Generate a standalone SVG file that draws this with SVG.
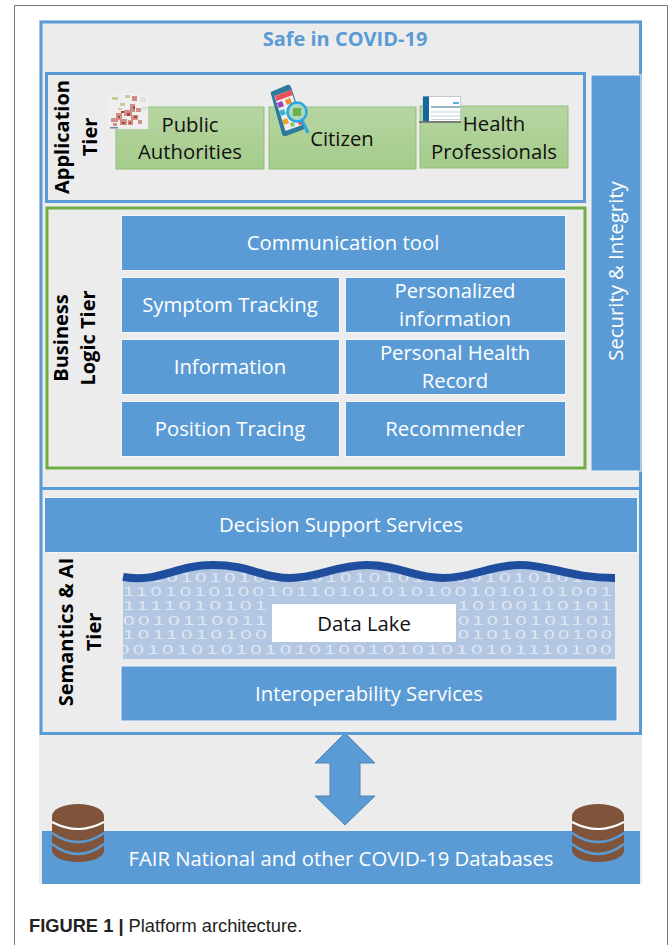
<svg xmlns="http://www.w3.org/2000/svg" width="669" height="945" viewBox="0 0 669 945">
<style>
text{font-family:"Open Sans","Noto Sans","Liberation Sans",sans-serif}
.b{fill:#5b9bd5;stroke:#f2f6fb;stroke-width:1}
.w{fill:#fff;font-size:20.300px;text-anchor:middle}
.k{fill:#111;font-size:20.300px;text-anchor:middle}
.t{fill:#000;font-size:20px;font-weight:700;text-anchor:middle}
.g{fill:url(#gr);stroke:#8fbf77;stroke-width:1}
text.bin{fill:#dfe6f2;font-size:12px;letter-spacing:2px;font-family:"Liberation Sans",sans-serif}
text.cap{font-family:"Liberation Sans",Arial,sans-serif;font-size:18.300px;fill:#222}
</style>
<defs>
<linearGradient id="gr" x1="0" y1="0" x2="0" y2="1"><stop offset="0" stop-color="#b7d5a2"/><stop offset="1" stop-color="#a5cc8b"/></linearGradient>
<clipPath id="lake"><path d="M123 577C160 583 175 565 213 565S260 578 290 578S335 565 367 565S413 578 443 578S490 565 520 565S570 578 615 578V659H123Z"/></clipPath>
<g id="db"><path d="M0 13V46C0 62 52 62 52 46V13Z" fill="#7f543b"/><ellipse cx="26" cy="12" rx="26" ry="12" fill="#7f543b"/><path d="M0 18Q26 32 52 18" fill="none" stroke="#fff" stroke-width="2"/><path d="M0 29Q26 47 52 29M0 40Q26 60 52 40" fill="none" stroke="#5b9bd5" stroke-width="2.500"/></g>
</defs>
<rect width="669" height="945" fill="#fff"/>
<path d="M14.500 945V5.500H667.500V945" fill="none" stroke="#777" stroke-width="1"/>
<rect x="39" y="20" width="603" height="864" fill="#ececec"/>
<g id="connectors"><path id="arrow" d="M345 733L375 763H360V796H375L345 825L315 796H330V763H315Z" fill="#5b9bd5" stroke="#4a84b8"/></g>
<g id="safe-frame"><path d="M41 735V22H640.500V735" fill="none" stroke="#5b9bd5" stroke-width="3"/><path d="M40 488.500H640M40 733.500H641" stroke="#5b9bd5" stroke-width="3" fill="none"/>
<text x="345" y="46" text-anchor="middle" font-size="20" font-weight="700" fill="#5b9bd5">Safe in COVID-19</text></g>
<g id="security"><rect class="b" x="591" y="75" width="50" height="396"/><text class="w" transform="translate(623 271) rotate(-90)">Security &amp; Integrity</text></g>
<g id="application-tier"><rect x="46.500" y="73.500" width="538" height="128" fill="none" stroke="#5b9bd5" stroke-width="3"/>
<text class="t" transform="translate(69 137) rotate(-90)">Application</text><text class="t" transform="translate(97 137) rotate(-90)">Tier</text></g>
<g id="public-authorities"><rect class="g" x="116" y="107" width="148" height="62"/><text class="k" x="190" y="132">Public</text><text class="k" x="190" y="159">Authorities</text>
<rect x="108" y="94" width="40" height="35" fill="#f0eeee"/>
<path d="M111 118h7v4h-7zM116 113h6v7h-6zM120 119h7v6h-7zM124 110h8v6h-8zM130 104h5v8h-5zM131 115h7v5h-7zM136 108h5v4h-5zM128 120h5v5h-5zM138 120h4v4h-4zM113 123h4v3h-4zM132 96h5v5h-5z" fill="#cf8f86"/>
<path d="M121 111h3v2h-3zM127 113h3v3h-3zM134 116h3v2h-3zM122 122h3v2h-3zM133 106h2v3h-2zM118 116h2v2h-2zM129 122h2v2h-2z" fill="#a8443c"/>
<path d="M112 97h6v3h-6zM125 95h5v3h-5zM120 103h5v3h-5zM118 108h4v2h-4z" fill="#c8cf9a"/>
<path d="M140 97h6v5h-6zM142 106h5v4h-5z" fill="#dfe2dc"/><path d="M110 127h8v1.500h-8z" fill="#6d88a8"/></g>
<g id="citizen"><rect class="g" x="269" y="107" width="147" height="62"/><text class="k" x="342" y="146">Citizen</text>
<path d="M273 91L287 85Q290 84 291 87L304 126Q305 129 302 130L286 136Q283 137 282 134L271 94Q270 92 273 91Z" fill="#2d7a9b"/><path d="M274.500 96L291 90L302 125L285.500 131Z" fill="#f0eef2"/><path d="M275 96L291 90L293 95L276.500 101Z" fill="#e8505a"/><path d="M277 103l5-2 2 5-5 2z" fill="#a03fc0"/><path d="M285 100l5-2 2 5-5 2z" fill="#f08a2a"/><path d="M279 111l5-2 2 5-5 2z" fill="#3cb4c8"/><path d="M282 120l5-2 2 5-5 2z" fill="#f0a52a"/><path d="M290 123l4-1 1 4-4 1z" fill="#8cc860"/><path d="M298 122l5-1 1 3-5 1z" fill="#e8505a"/><circle cx="297" cy="112" r="9.500" fill="#a8d8c0" stroke="#2aa7de" stroke-width="2.500"/><path d="M293 108h8v8h-8z" fill="#6cb04a"/><path d="M302 120L308 133" stroke="#2aa7de" stroke-width="3"/></g>
<g id="health-professionals"><rect class="g" x="420" y="106" width="148" height="62"/><text class="k" x="494" y="131">Health</text><text class="k" x="494" y="159">Professionals</text>
<rect x="423" y="96.500" width="37.500" height="25" fill="#fff" stroke="#c5c8cc"/><rect x="423" y="96.500" width="6" height="25" fill="#14689e"/><path d="M431 107H460" stroke="#3a6a8a"/><path d="M431 112H460M431 116H460M431 119.500H460" stroke="#c4d0da"/><rect x="453" y="102" width="6" height="2" fill="#5ab0e0"/><path d="M419 122H461" stroke="#666" stroke-width="1.500"/></g>
<g id="business-tier"><rect x="47" y="208" width="538" height="260" fill="none" stroke="#70ad47" stroke-width="3"/>
<text class="t" transform="translate(68 338) rotate(-90)">Business</text><text class="t" transform="translate(95 338) rotate(-90)">Logic Tier</text></g>
<g id="communication-tool"><rect class="b" x="121.500" y="215.500" width="444" height="55"/><text class="w" x="343" y="250">Communication tool</text></g>
<g id="symptom-tracking"><rect class="b" x="121.500" y="277.500" width="218" height="55"/><text class="w" x="230" y="312">Symptom Tracking</text></g>
<g id="personalized-information"><rect class="b" x="345.500" y="277.500" width="220" height="55"/><text class="w" x="455" y="298">Personalized</text><text class="w" x="455" y="326">information</text></g>
<g id="information"><rect class="b" x="121.500" y="339.500" width="218" height="55"/><text class="w" x="230" y="374">Information</text></g>
<g id="personal-health-record"><rect class="b" x="345.500" y="339.500" width="220" height="55"/><text class="w" x="455" y="360">Personal Health</text><text class="w" x="455" y="388">Record</text></g>
<g id="position-tracing"><rect class="b" x="121.500" y="401.500" width="218" height="55"/><text class="w" x="230" y="436">Position Tracing</text></g>
<g id="recommender"><rect class="b" x="345.500" y="401.500" width="220" height="55"/><text class="w" x="455" y="436">Recommender</text></g>
<g id="semantics-tier"><text class="t" transform="translate(73 632) rotate(-90)">Semantics &amp; AI</text><text class="t" transform="translate(101 632) rotate(-90)">Tier</text></g>
<g id="decision-support"><rect class="b" x="44.500" y="497.500" width="593" height="55"/><text class="w" x="341" y="532">Decision Support Services</text></g>
<g id="data-lake"><rect x="123" y="560" width="492" height="99" fill="#b4c7e2" clip-path="url(#lake)"/>
<g clip-path="url(#lake)">
<text class="bin" x="123" y="582" textLength="492" lengthAdjust="spacingAndGlyphs">1010101010101010101010100101010100</text>
<text class="bin" x="123" y="596" textLength="492" lengthAdjust="spacingAndGlyphs">1101010100101101010101001010101001</text>
<text class="bin" x="123" y="610" textLength="147" lengthAdjust="spacingAndGlyphs">1111010101</text>
<text class="bin" x="458" y="610" textLength="157" lengthAdjust="spacingAndGlyphs">10100110101</text>
<text class="bin" x="123" y="625" textLength="147" lengthAdjust="spacingAndGlyphs">0010110011</text>
<text class="bin" x="458" y="625" textLength="157" lengthAdjust="spacingAndGlyphs">01010101101</text>
<text class="bin" x="123" y="639" textLength="147" lengthAdjust="spacingAndGlyphs">1011010100</text>
<text class="bin" x="458" y="639" textLength="157" lengthAdjust="spacingAndGlyphs">01010100100</text>
<text class="bin" x="118" y="654" textLength="497" lengthAdjust="spacingAndGlyphs">0010101010101010010101010101110100</text>
</g>
<path d="M123 577C160 583 175 565 213 565S260 578 290 578S335 565 367 565S413 578 443 578S490 565 520 565S570 578 615 578" fill="none" stroke="#1f4e9e" stroke-width="8"/>
<rect x="272" y="604" width="184" height="38" fill="#fff"/><text x="364" y="631" text-anchor="middle" font-size="20.300" fill="#111">Data Lake</text></g>
<g id="interoperability"><rect x="121" y="666" width="496" height="55" class="b"/><text class="w" x="369" y="701">Interoperability Services</text></g>
<g id="fair-databases"><rect x="42" y="831" width="598" height="53" fill="#5b9bd5"/><text class="w" x="341" y="866">FAIR National and other COVID-19 Databases</text></g>
<use id="db-left" href="#db" x="52" y="804"/>
<use id="db-right" href="#db" x="572" y="804"/>
<text class="cap" x="29" y="932" font-weight="700">FIGURE 1 | <tspan font-weight="400">Platform architecture.</tspan></text>
</svg>
